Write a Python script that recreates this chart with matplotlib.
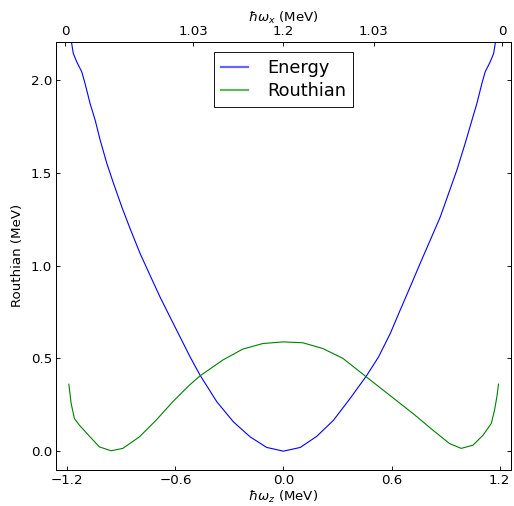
import matplotlib
matplotlib.use("Agg")
import matplotlib.pyplot as plt

# hbar*omega_z (MeV) and energies
energy_x = [-1.185, -1.176, -1.167, -1.148, -1.12, -1.102, -1.074, -1.046, -1.018,
            -0.981, -0.944, -0.898, -0.852, -0.796, -0.741, -0.685, -0.63, -0.574,
            -0.518, -0.463, -0.37, -0.278, -0.185, -0.093, 0.0,
            0.093, 0.185, 0.278, 0.37, 0.463, 0.528, 0.593, 0.648, 0.704, 0.759,
            0.815, 0.871, 0.917, 0.963, 1.009, 1.047, 1.074, 1.102, 1.12, 1.148,
            1.167, 1.176, 1.185]
energy_y = [2.26, 2.197, 2.143, 2.098, 2.044, 1.982, 1.874, 1.785, 1.677,
            1.551, 1.444, 1.317, 1.2, 1.065, 0.948, 0.83, 0.723, 0.615,
            0.507, 0.409, 0.266, 0.158, 0.077, 0.02, 0.0,
            0.02, 0.08, 0.167, 0.284, 0.409, 0.508, 0.634, 0.76, 0.886, 1.012,
            1.137, 1.263, 1.389, 1.515, 1.659, 1.785, 1.874, 1.982, 2.044, 2.098,
            2.143, 2.197, 2.26]

routhian_x = [-1.192, -1.179, -1.161, -1.133, -1.078, -1.022, -0.957, -0.892, -0.8,
              -0.707, -0.615, -0.522, -0.463, -0.337, -0.226, -0.115, 0.0,
              0.108, 0.219, 0.33, 0.459, 0.589, 0.719, 0.83, 0.922, 0.987,
              1.052, 1.108, 1.154, 1.172, 1.185, 1.194]
routhian_y = [0.361, 0.257, 0.176, 0.14, 0.081, 0.023, 0.002, 0.015, 0.077,
              0.167, 0.266, 0.356, 0.406, 0.491, 0.55, 0.58, 0.589,
              0.584, 0.553, 0.5, 0.401, 0.302, 0.203, 0.113, 0.041, 0.015,
              0.032, 0.086, 0.149, 0.221, 0.293, 0.361]

bottom_ticks = [-1.2, -0.6, 0.0, 0.6, 1.2]
top_ticks = [-1.213, -0.5, 0.0, 0.5, 1.213]
top_labels = ["0", "1.03", "1.2", "1.03", "0"]
y_ticks = [0.0, 0.5, 1.0, 1.5, 2.0]

plt.rcParams["font.size"] = 12
plt.rcParams["xtick.direction"] = "in"
plt.rcParams["ytick.direction"] = "in"
plt.rcParams["xtick.major.size"] = 4
plt.rcParams["ytick.major.size"] = 4

fig = plt.figure(figsize=(514 / 80, 506 / 80), dpi=80)
ax = fig.add_axes([0.109, 0.0717, 0.885, 0.8453])

ax.plot(energy_x, energy_y, color="b", lw=1.0, label="Energy")
ax.plot(routhian_x, routhian_y, color="g", lw=1.0, label="Routhian")

ax.set_xlim(-1.263, 1.263)
ax.set_ylim(-0.1, 2.205)
ax.set_xticks(bottom_ticks)
ax.set_xticklabels(["\u22121.2", "\u22120.6", "0.0", "0.6", "1.2"])
ax.set_yticks(y_ticks)
ax.set_yticklabels(["%.1f" % v for v in y_ticks])
ax.tick_params(right=True, top=False)
ax.set_xlabel(r"$\hbar\omega_z$ (MeV)", labelpad=2)
ax.set_ylabel("Routhian (MeV)", labelpad=6)

top = ax.twiny()
top.set_xlim(ax.get_xlim())
top.set_xticks(top_ticks)
top.set_xticklabels(top_labels)
top.set_xlabel(r"$\hbar\omega_x$ (MeV)", labelpad=3)

leg = ax.legend(loc="upper center", fontsize=16, handlelength=1.5,
                handletextpad=1.1, borderpad=0.4, labelspacing=0.3,
                fancybox=False, edgecolor="black", framealpha=1,
                borderaxespad=0.55)
leg.get_frame().set_linewidth(0.8)
for line in leg.get_lines():
    line.set_alpha(0.6)
    line.set_linewidth(2.0)

fig.savefig("out.png", dpi=80)
